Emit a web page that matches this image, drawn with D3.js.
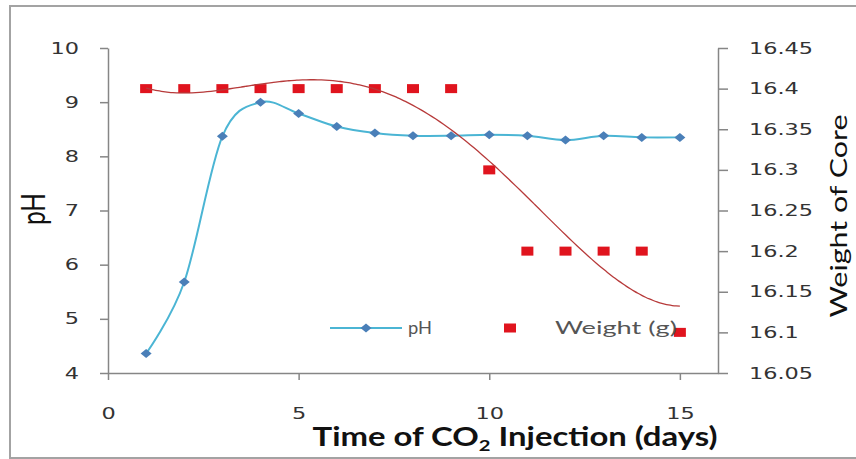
<!DOCTYPE html>
<html>
<head>
<meta charset="utf-8">
<script src="https://cdn.jsdelivr.net/npm/d3@7/dist/d3.min.js"></script>
<style>
  body { margin: 0; background: #fff; }
  svg { display: block; }
</style>
</head>
<body>
<svg id="chart" width="856" height="459"></svg>
<script>
// data
const days = [1, 2, 3, 4, 5, 6, 7, 8, 9, 10, 11, 12, 13, 14, 15];
const phValues = [4.36, 5.68, 8.37, 9.00, 8.79, 8.55, 8.43, 8.38, 8.38, 8.40, 8.38, 8.30, 8.38, 8.35, 8.35];
const weightValues = [16.4, 16.4, 16.4, 16.4, 16.4, 16.4, 16.4, 16.4, 16.4, 16.3, 16.2, 16.2, 16.2, 16.2, 16.1];
const xTicks = [0, 5, 10, 15];
const phTicks = [4, 5, 6, 7, 8, 9, 10];
const weightTicks = [16.05, 16.1, 16.15, 16.2, 16.25, 16.3, 16.35, 16.4, 16.45];
const trendOrder = 4;

const svg = d3.select("#chart");
const STRETCH = 1.4; // the source picture is wider than tall

const x = d3.scaleLinear().domain([0, 16]).range([108, 718]);
const yPh = d3.scaleLinear().domain([4, 10]).range([373, 48]);
const yW = d3.scaleLinear().domain([16.05, 16.45]).range([373, 48]);

// outer frame
svg.append("rect")
	.attr("x", 10).attr("y", 6)
	.attr("width", 870).attr("height", 452)
	.attr("fill", "none")
	.attr("stroke", "#a3a3a3")
	.attr("stroke-width", 2);

/** widen tick labels without moving their anchor */
function stretchTicks(g) {
	g.selectAll(".tick text").each(function() {
		const t = d3.select(this);
		const tx = +t.attr("x") || 0;
		t.attr("x", tx / STRETCH).attr("transform", `scale(${STRETCH},1)`);
	});
}

function styleAxis(g) {
	g.select(".domain").attr("stroke", "#868686").attr("stroke-width", 1.5);
	g.selectAll(".tick line").attr("stroke", "#868686").attr("stroke-width", 1.5);
	g.selectAll(".tick text")
		.attr("fill", "#333")
		.attr("font-family", "DejaVu Sans")
		.attr("font-size", 16);
}

const fmt = d => String(+d.toFixed(2));

const gLeft = svg.append("g").attr("transform", `translate(${x(0)},0)`)
	.call(d3.axisLeft(yPh).tickValues(phTicks).tickSize(8).tickSizeOuter(0).tickPadding(21).tickFormat(fmt));
styleAxis(gLeft); stretchTicks(gLeft);

const gRight = svg.append("g").attr("transform", `translate(${x(16)},0)`)
	.call(d3.axisRight(yW).tickValues(weightTicks).tickSize(10).tickSizeOuter(0).tickPadding(21).tickFormat(fmt));
styleAxis(gRight); stretchTicks(gRight);

const gBottom = svg.append("g").attr("transform", `translate(0,${yPh(4)})`)
	.call(d3.axisBottom(x).tickValues(xTicks).tickSize(7).tickSizeOuter(0).tickPadding(28).tickFormat(fmt));
styleAxis(gBottom); stretchTicks(gBottom);

// text scaled along its own direction to a given length
function fitText(g, length) {
	const t = g.select("text");
	const w = t.node().getBBox().width;
	t.attr("transform", `scale(${length / w},1)`);
}

// x axis title
const xt = svg.append("g").attr("transform", "translate(515,446)");
const xtText = xt.append("text")
	.attr("text-anchor", "middle")
	.attr("fill", "#111")
	.style("font-family", "Lato")
	.style("font-weight", "bold")
	.style("font-size", "26px");
xtText.append("tspan").text("Time of CO");
xtText.append("tspan").attr("dy", 5).style("font-size", "16px").text("2");
xtText.append("tspan").attr("dy", -5).text(" Injection (days)");
fitText(xt, 405);

// left title
const ylt = svg.append("g").attr("transform", "translate(45,209) rotate(-90)");
ylt.append("text")
	.attr("text-anchor", "middle")
	.attr("fill", "#111")
	.style("font-family", "Lato")
	.style("font-size", "32px")
	.text("pH");
fitText(ylt, 32);

// right title
const yrt = svg.append("g").attr("transform", "translate(847,216) rotate(-90)");
yrt.append("text")
	.attr("text-anchor", "middle")
	.attr("fill", "#111")
	.style("font-family", "Lato")
	.style("font-size", "23px")
	.text("Weight of Core");
fitText(yrt, 203);

// pH series
const phData = days.map((d, i) => ({ x: d, y: phValues[i] }));
const phLine = d3.line()
	.x(d => x(d.x))
	.y(d => yPh(d.y))
	.curve(d3.curveCardinal.tension(0));

svg.append("path")
	.datum(phData)
	.attr("d", phLine)
	.attr("fill", "none")
	.attr("stroke", "#4bb5d4")
	.attr("stroke-width", 2);

const diamond = "M0,-4.5L5.5,0L0,4.5L-5.5,0Z";
svg.append("g").selectAll("path")
	.data(phData)
	.enter().append("path")
	.attr("d", diamond)
	.attr("transform", d => `translate(${x(d.x)},${yPh(d.y)})`)
	.attr("fill", "#4a7fb8");

// weight series
const wData = days.map((d, i) => ({ x: d, y: weightValues[i] }));
svg.append("g").selectAll("rect")
	.data(wData)
	.enter().append("rect")
	.attr("x", d => x(d.x) - 6)
	.attr("y", d => yW(d.y) - 4.5)
	.attr("width", 12)
	.attr("height", 9)
	.attr("fill", "#e0141e");

/** least squares polynomial trend line, like the spreadsheet one */
function polyfit(xs, ys, order) {
	const n = order + 1;
	const A = [];
	for (let r = 0; r < n; r++) A.push(new Array(n + 1).fill(0));
	xs.forEach((xv, i) => {
		const t = (xv - 8) / 7;
		for (let r = 0; r < n; r++) {
			for (let c = 0; c < n; c++) A[r][c] += Math.pow(t, r + c);
			A[r][n] += ys[i] * Math.pow(t, r);
		}
	});
	for (let p = 0; p < n; p++) {
		let best = p;
		for (let r = p + 1; r < n; r++) if (Math.abs(A[r][p]) > Math.abs(A[best][p])) best = r;
		[A[p], A[best]] = [A[best], A[p]];
		for (let r = 0; r < n; r++) {
			if (r === p) continue;
			const f = A[r][p] / A[p][p];
			for (let c = p; c <= n; c++) A[r][c] -= f * A[p][c];
		}
	}
	const coef = A.map((row, i) => row[n] / row[i]);
	return xv => {
		const t = (xv - 8) / 7;
		return coef.reduce((s, c, i) => s + c * Math.pow(t, i), 0);
	};
}

const trend = polyfit(days, weightValues, trendOrder);
const trendData = d3.range(days[0], days[days.length - 1] + 0.001, 0.1).map(d => ({ x: d, y: trend(d) }));
svg.append("path")
	.datum(trendData)
	.attr("d", d3.line().x(d => x(d.x)).y(d => yW(d.y)).curve(d3.curveMonotoneX))
	.attr("fill", "none")
	.attr("stroke", "#b73a3a")
	.attr("stroke-width", 1.3);

// legend
const legend = svg.append("g");
legend.append("line")
	.attr("x1", 330).attr("x2", 402).attr("y1", 328).attr("y2", 328)
	.attr("stroke", "#4bb5d4").attr("stroke-width", 2);
legend.append("path").attr("d", diamond)
	.attr("transform", "translate(366,328)")
	.attr("fill", "#4a7fb8");
const lg1 = legend.append("g").attr("transform", "translate(408,334)");
lg1.append("text")
	.attr("fill", "#555")
	.style("font-family", "Lato")
	.style("font-size", "18px")
	.text("pH");
fitText(lg1, 24);
legend.append("rect")
	.attr("x", 504).attr("y", 323.5).attr("width", 12).attr("height", 9)
	.attr("fill", "#e0141e");
const lg2 = legend.append("g").attr("transform", "translate(555,334)");
lg2.append("text")
	.attr("fill", "#555")
	.style("font-family", "Lato")
	.style("font-size", "18px")
	.text("Weight (g)");
fitText(lg2, 122);
</script>
</body>
</html>
